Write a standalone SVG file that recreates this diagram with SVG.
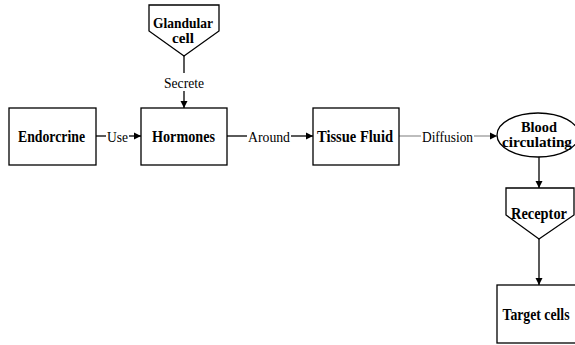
<svg xmlns="http://www.w3.org/2000/svg" width="575" height="345" viewBox="0 0 575 345">
<defs>
<marker id="ah" markerWidth="8" markerHeight="8" refX="7" refY="4" orient="auto" markerUnits="userSpaceOnUse">
<path d="M0,0.5 L7,4 L0,7.5 Z" fill="#000"/>
</marker>
<style>
.box{fill:#fff;stroke:#000;stroke-width:1.3}
.t{font-family:"Liberation Serif",serif;font-weight:bold;font-size:16px;text-anchor:middle;fill:#000}
.s{font-size:14.500px}
.l{font-family:"Liberation Serif",serif;font-size:15.500px;text-anchor:middle;fill:#000}
.c{stroke:#000;stroke-width:1.3;fill:none}
.g{stroke:#999;stroke-width:1.3;fill:none}
</style>
</defs>
<rect width="575" height="345" fill="#fff"/>
<g id="connectors">
<line class="c" x1="184" y1="56" x2="184" y2="73"/>
<text class="l" x="184" y="88" textLength="40" lengthAdjust="spacingAndGlyphs">Secrete</text>
<line class="c" x1="184" y1="91" x2="184" y2="108" marker-end="url(#ah)"/>
<line class="c" x1="96" y1="136" x2="106" y2="136"/>
<text class="l" x="117.500" y="142" textLength="21" lengthAdjust="spacingAndGlyphs">Use</text>
<line class="c" x1="129" y1="136" x2="141" y2="136" marker-end="url(#ah)"/>
<line class="c" x1="227" y1="136" x2="247" y2="136"/>
<text class="l" x="269" y="142" textLength="42" lengthAdjust="spacingAndGlyphs">Around</text>
<line class="c" x1="291" y1="136" x2="313" y2="136" marker-end="url(#ah)"/>
<line class="g" x1="399" y1="136" x2="421" y2="136"/>
<text class="l" x="447.500" y="142" textLength="51" lengthAdjust="spacingAndGlyphs">Diffusion</text>
<line class="g" x1="474" y1="136" x2="497" y2="136" marker-end="url(#ah)"/>
<line class="c" x1="539" y1="157" x2="539" y2="188" marker-end="url(#ah)"/>
<line class="c" x1="539" y1="239" x2="539" y2="285" marker-end="url(#ah)"/>
</g>
<g id="glandular">
<path class="box" d="M149,5 H219 V31 L184,56 L149,31 Z"/>
<text class="t s" x="183" y="28" textLength="60" lengthAdjust="spacingAndGlyphs">Glandular</text>
<text class="t s" x="183" y="43" textLength="22" lengthAdjust="spacingAndGlyphs">cell</text>
</g>
<g id="endorcrine">
<rect class="box" x="9" y="108" width="87" height="57"/>
<text class="t" x="51.500" y="142" textLength="67" lengthAdjust="spacingAndGlyphs">Endorcrine</text>
</g>
<g id="hormones">
<rect class="box" x="141" y="108" width="86" height="57"/>
<text class="t" x="183.500" y="142" textLength="63" lengthAdjust="spacingAndGlyphs">Hormones</text>
</g>
<g id="tissue">
<rect class="box" x="313" y="108" width="86" height="57"/>
<text class="t" x="355" y="142" textLength="76" lengthAdjust="spacingAndGlyphs">Tissue Fluid</text>
</g>
<g id="blood">
<ellipse class="box" cx="538" cy="135" rx="41" ry="22"/>
<text class="t s" x="539" y="132" textLength="36" lengthAdjust="spacingAndGlyphs">Blood</text>
<text class="t s" x="537" y="147" textLength="70" lengthAdjust="spacingAndGlyphs">circulating</text>
</g>
<g id="receptor">
<path class="box" d="M506,188 H574 V215 L539,239 L506,215 Z"/>
<text class="t" x="539" y="219" textLength="56" lengthAdjust="spacingAndGlyphs">Receptor</text>
</g>
<g id="target">
<rect class="box" x="497" y="285" width="82" height="58"/>
<text class="t" x="536" y="320" textLength="67" lengthAdjust="spacingAndGlyphs">Target cells</text>
</g>
</svg>
